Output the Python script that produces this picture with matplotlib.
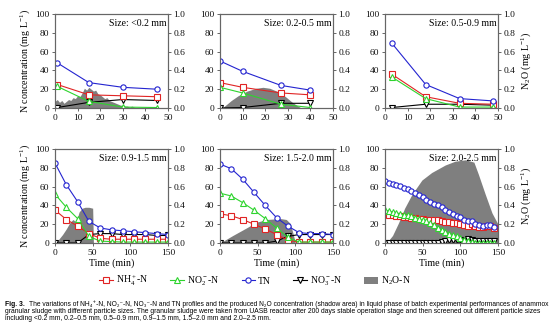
import matplotlib.pyplot as plt
import numpy as np
from matplotlib import font_manager
from matplotlib.lines import Line2D
from matplotlib.patches import Patch

plt.rcParams['font.family'] = ['Liberation Serif', 'DejaVu Serif']
plt.rcParams['mathtext.fontset'] = 'custom'
plt.rcParams['mathtext.rm'] = 'Liberation Serif'
plt.rcParams['mathtext.it'] = 'Liberation Serif:italic'
plt.rcParams['mathtext.bf'] = 'Liberation Serif:bold'

# ---- data ----
size_labels = ['Size: <0.2 mm', 'Size: 0.2-0.5 mm', 'Size: 0.5-0.9 mm',
               'Size: 0.9-1.5 mm', 'Size: 1.5-2.0 mm', 'Size: 2.0-2.5 mm']

# <0.2 mm
t1 = [1, 15, 30, 45]
nh4_1 = [25, 14, 13, 12]
no2_1 = [23, 7, 1, 0.5]
tn_1 = [48, 27, 22, 20]
no3_1 = [0.5, 6, 9, 8]
n2o_t1 = [0, 1, 2, 3, 4, 5, 6, 7, 8, 9, 10, 11, 12, 13, 14, 15, 16, 17, 18,
          19, 20, 21, 22, 23, 24, 25, 26, 27, 28, 29, 30, 31, 32, 33, 34, 35, 36]
n2o_1 = [0.07, 0.09, 0.06, 0.08, 0.05, 0.07, 0.09, 0.08, 0.11, 0.10, 0.13,
         0.12, 0.16, 0.21, 0.19, 0.22, 0.20, 0.18, 0.19, 0.15, 0.14, 0.12,
         0.10, 0.11, 0.08, 0.07, 0.06, 0.05, 0.04, 0.03, 0.03, 0.02, 0.02,
         0.01, 0.02, 0.01, 0.0]

# 0.2-0.5 mm
t2 = [0, 10, 27, 40]
nh4_2 = [27, 22, 16, 14]
no2_2 = [22, 16, 4, 0.5]
tn_2 = [50, 39, 24, 19]
no3_2 = [0, 0.5, 5, 5]
n2o_t2 = [1, 3, 5, 8, 12, 16, 19, 22, 26, 29, 32, 34.5, 36]
n2o_2 = [0, 0.04, 0.08, 0.13, 0.18, 0.21, 0.22, 0.21, 0.17, 0.12, 0.06, 0.02, 0]

# 0.5-0.9 mm
t3 = [3, 18, 33, 48]
nh4_3 = [36, 12, 5, 4]
no2_3 = [33, 10, 1, 1]
tn_3 = [69, 25, 10, 7.5]
no3_3 = [0.5, 4, 4, 3]
n2o_t3 = []
n2o_3 = []

# 0.9-1.5 mm
t4 = [0, 15, 30, 45, 60, 75, 90, 105, 120, 135, 150]
nh4_4 = [35, 25, 18, 10, 5, 4, 4, 4, 4, 4, 4]
no2_4 = [52, 38, 26, 7, 2, 1.5, 1, 1, 1, 1, 1]
tn_4 = [85, 62, 44, 23, 16, 14, 13, 12, 11, 10, 9]
no3_4 = [0, 0, 0, 9, 10, 10, 9, 9, 9, 8, 8]
n2o_t4 = [0, 5, 10, 15, 20, 24, 28, 32, 36, 40, 45, 50, 51]
n2o_4 = [0.0, 0.04, 0.09, 0.15, 0.22, 0.25, 0.22, 0.33, 0.37, 0.38, 0.38, 0.37, 0.0]

# 1.5-2.0 mm
t5 = [0, 15, 30, 45, 60, 75, 90, 105, 120, 135, 150]
nh4_5 = [31, 29, 25, 20, 15, 9, 3, 1, 1, 1, 1]
no2_5 = [53, 50, 43, 35, 26, 16, 6, 1, 1, 1, 1]
tn_5 = [84, 79, 68, 54, 40, 27, 18, 11, 10, 10, 9]
no3_5 = [0, 0, 0, 0, 0, 2, 7, 9, 9, 9, 9]
n2o_t5 = [0, 17, 35, 48, 62, 80, 88, 93, 97, 100]
n2o_5 = [0, 0.08, 0.16, 0.22, 0.25, 0.26, 0.25, 0.21, 0.10, 0]

# 2.0-2.5 mm
t6 = [0, 5, 10, 15, 20, 25, 30, 35, 40, 45, 50, 55, 60, 65, 70,
      75, 80, 85, 90, 95, 100, 105, 110, 115, 120, 125, 130, 135, 140, 145]
nh4_6 = [31, 30, 30, 29, 29, 28, 28, 27, 27, 26, 26, 25, 25, 24, 24,
         23, 22, 22, 21, 21, 20, 19, 18, 20, 18, 17, 17, 18, 18, 16]
no2_6 = [35, 34, 33, 32, 31, 30, 30, 29, 27, 26, 24, 23, 21, 19, 16,
         14, 12, 10, 9, 7, 5, 3, 2, 1, 0.5, 0.5, 0.5, 0.5, 0.5, 0.5]
tn_6 = [66, 64, 63, 62, 61, 59, 57, 55, 53, 51, 49, 46, 44, 42, 40,
        38, 35, 33, 31, 29, 28, 25, 23, 23, 20, 19, 18, 19, 19, 17]
no3_6 = [0, 0, 0, 0, 0, 0, 0, 0, 0, 0, 0, 0, 0, 0, 0.5,
         1, 2, 3, 3, 3, 3, 2, 4, 3, 2, 2, 2, 2, 2, 2]
n2o_t6 = [2, 10, 18, 26, 36, 49, 62, 80, 93, 107, 118, 124, 133, 142, 150]
n2o_6 = [0, 0.08, 0.215, 0.37, 0.52, 0.67, 0.75, 0.83, 0.87, 0.885, 0.86,
         0.73, 0.52, 0.32, 0.20]

panels = [
    (t1, nh4_1, no2_1, tn_1, no3_1, n2o_t1, n2o_1, 50),
    (t2, nh4_2, no2_2, tn_2, no3_2, n2o_t2, n2o_2, 50),
    (t3, nh4_3, no2_3, tn_3, no3_3, n2o_t3, n2o_3, 50),
    (t4, nh4_4, no2_4, tn_4, no3_4, n2o_t4, n2o_4, 150),
    (t5, nh4_5, no2_5, tn_5, no3_5, n2o_t5, n2o_5, 150),
    (t6, nh4_6, no2_6, tn_6, no3_6, n2o_t6, n2o_6, 150),
]

c_nh4 = '#e02424'
c_no2 = '#2ed42e'
c_tn = '#2424d0'
c_no3 = '#000000'
c_n2o = '#7f7f7f'
spine_c = '#666666'

W, H = 554, 334
fig = plt.figure(figsize=(W / 100, H / 100), dpi=100)

lefts = [55, 220, 385]
bottoms = [108, 243]
aw, ah = 113, 94

mk = dict(markersize=3.8, markerfacecolor='white', markeredgewidth=0.8, linewidth=0.8)

for i, (t, nh4, no2, tn, no3, nt, nv, xmax) in enumerate(panels):
    row, col = divmod(i, 3)
    ax = fig.add_axes([lefts[col] / W, 1 - bottoms[row] / H, aw / W, ah / H])
    ax2 = ax.twinx()
    if len(nt):
        ax2.fill_between(nt, nv, 0, color=c_n2o, linewidth=0)
    ax2.set_ylim(0, 1.0)
    ax2.set_yticks(np.arange(0, 1.01, 0.2))
    ax2.set_yticklabels(['%.1f' % v for v in np.arange(0, 1.01, 0.2)])
    ax.set_zorder(ax2.get_zorder() + 1)
    ax.patch.set_visible(False)

    ax.plot(t, no3, color=c_no3, marker='v', markeredgecolor=c_no3, **mk)
    ax.plot(t, nh4, color=c_nh4, marker='s', markeredgecolor=c_nh4, **mk)
    ax.plot(t, no2, color=c_no2, marker='^', markeredgecolor=c_no2, **mk)
    ax.plot(t, tn, color=c_tn, marker='o', markeredgecolor=c_tn, **mk)

    ax.set_xlim(0, xmax)
    ax.set_ylim(0, 100)
    ax.set_yticks([0, 20, 40, 60, 80, 100])
    if xmax == 50:
        ax.set_xticks([0, 10, 20, 30, 40, 50])
    else:
        ax.set_xticks([0, 50, 100, 150])

    for a in (ax, ax2):
        for s in a.spines.values():
            s.set_color(spine_c)
            s.set_linewidth(0.8)
        a.tick_params(labelsize=6.8, length=2.5, width=0.7, color=spine_c,
                      pad=1.5, labelcolor='#111111')

    ax.text(0.985, 0.95, size_labels[i], transform=ax.transAxes,
            ha='right', va='top', fontsize=7)

    if col == 0:
        ax.set_ylabel('N concentration (mg L$^{-1}$)', fontsize=7.2, labelpad=2)
    if col == 2:
        ax2.set_ylabel('N$_2$O (mg L$^{-1}$)', fontsize=7.2, labelpad=3)
    if row == 1:
        ax.set_xlabel('Time (min)', fontsize=7.2, labelpad=1)

handles = [
    Line2D([], [], color=c_nh4, marker='s', markeredgecolor=c_nh4, **mk),
    Line2D([], [], color=c_no2, marker='^', markeredgecolor=c_no2, **mk),
    Line2D([], [], color=c_tn, marker='o', markeredgecolor=c_tn, **mk),
    Line2D([], [], color=c_no3, marker='v', markeredgecolor=c_no3, **mk),
    Patch(facecolor=c_n2o, edgecolor='none'),
]
labels = ['NH$_4^+$-N', 'NO$_2^-$-N', 'TN', 'NO$_3^-$-N', 'N$_2$O-N']
fig.legend(handles, labels, loc='center', bbox_to_anchor=(255 / W, 1 - 281 / H),
           ncol=5, frameon=False, fontsize=7, handlelength=1.4,
           handletextpad=0.3, columnspacing=2.3)

# ---- caption ----
names = {f.name for f in font_manager.fontManager.ttflist}
cap_font = 'Liberation Sans Narrow' if 'Liberation Sans Narrow' in names else 'Liberation Sans'
cap_family = [cap_font, 'DejaVu Sans']

cap1 = ('The variations of NH\u2084\u207a-N, NO\u2082\u207b-N, NO\u2083\u207b-N and TN profiles and the produced '
        'N\u2082O concentration (shadow area) in liquid phase of batch experimental performances of anammox')
cap2 = ('granular sludge with different particle sizes. The granular sludge were taken from UASB '
        'reactor after 200 days stable operation stage and then screened out different particle sizes')
cap3 = 'including <0.2 mm, 0.2\u20130.5 mm, 0.5\u20130.9 mm, 0.9\u20131.5 mm, 1.5\u20132.0 mm and 2.0\u20132.5 mm.'

x0, x1 = 5, 547
fig.canvas.draw()
renderer = fig.canvas.get_renderer()


def fit_width(txt, target):
    # shrink/grow the font until the line spans the target width
    for _ in range(6):
        w = txt.get_window_extent(renderer).width
        txt.set_fontsize(txt.get_fontsize() * target / w)


t_2 = fig.text(x0 / W, 1 - 311.5 / H, cap2, fontsize=5, family=cap_family,
               va='center', ha='left')
fit_width(t_2, x1 - x0)
fs = t_2.get_fontsize()

fig_lbl = fig.text(x0 / W, 1 - 304.5 / H, 'Fig. 3.', fontsize=fs, fontweight='bold',
                   family=cap_family, va='center', ha='left')
lbl_w = fig_lbl.get_window_extent(renderer).width
t_1 = fig.text((x0 + lbl_w + 4) / W, 1 - 304.5 / H, cap1, fontsize=fs, family=cap_family,
               va='center', ha='left')
fit_width(t_1, x1 - x0 - lbl_w - 4)
t_3 = fig.text(x0 / W, 1 - 318.5 / H, cap3, fontsize=fs, family=cap_family,
               va='center', ha='left')

fig.savefig('out.png', dpi=100)
